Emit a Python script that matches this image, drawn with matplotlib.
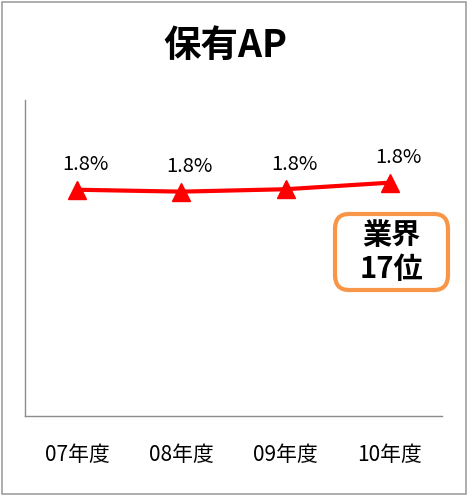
import matplotlib
matplotlib.use('Agg')
import matplotlib.pyplot as plt
from matplotlib.patches import FancyBboxPatch, Rectangle

plt.rcParams['font.family'] = ['Noto Sans CJK JP', 'DejaVu Sans']

# ── Data ──────────────────────────────────────────────────────────────────────
years  = ['07年度', '08年度', '09年度', '10年度']
values = [1.79, 1.775, 1.794, 1.846]     # % share, all shown as 1.8%
labels = ['1.8%', '1.8%', '1.8%', '1.8%']
TITLE  = '保有AP'
RANK   = '業界\n17位'

# ── Style ─────────────────────────────────────────────────────────────────────
DPI        = 100
LINE_COLOR = '#ff0000'
BOX_COLOR  = '#f79646'
AXIS_COLOR = '#8c8c8c'

fig = plt.figure(figsize=(468 / DPI, 498 / DPI), dpi=DPI)
ax = fig.add_axes([25 / 468, 82 / 498, 417 / 468, 316 / 498])

x = range(len(years))
ax.plot(x, values, color=LINE_COLOR, lw=3, marker='^', ms=13,
        markeredgecolor=LINE_COLOR, solid_capstyle='round')

for i, (v, lab) in enumerate(zip(values, labels)):
    ax.annotate(lab, (i, v), xytext=(6, 14), textcoords='offset points',
                ha='center', va='baseline', fontsize=14.5, color='#000000')

ax.set_xlim(-0.5, len(years) - 0.5)
ax.set_ylim(0, 2.5)
ax.set_xticks(list(x))
ax.set_xticklabels(years, fontsize=15)
ax.set_yticks([])
ax.tick_params(axis='x', length=0, pad=20)
for s in ['top', 'right']:
    ax.spines[s].set_visible(False)
for s in ['left', 'bottom']:
    ax.spines[s].set_color(AXIS_COLOR)
    ax.spines[s].set_linewidth(1)

# Title
fig.text(225 / 468, 1 - 45 / 498, TITLE, ha='center', va='center',
         fontsize=27, fontweight='bold')

# Rank box
box = FancyBboxPatch((335 / 468, 1 - 290 / 498), 113 / 468, 76 / 498,
                     boxstyle='round,pad=0,rounding_size=0.03',
                     transform=fig.transFigure, facecolor='white',
                     edgecolor=BOX_COLOR, lw=3)
fig.patches.append(box)
fig.text(391 / 468, 1 - 252 / 498, RANK, ha='center', va='center',
         fontsize=21, fontweight='bold', linespacing=1.15)

# Outer frame
fig.patches.append(Rectangle((2 / 468, 4 / 498), 464 / 468, 492 / 498,
                             transform=fig.transFigure, fill=False,
                             edgecolor='#a0a0a0', lw=1.2))

fig.savefig('out.png', dpi=DPI, facecolor='white')
